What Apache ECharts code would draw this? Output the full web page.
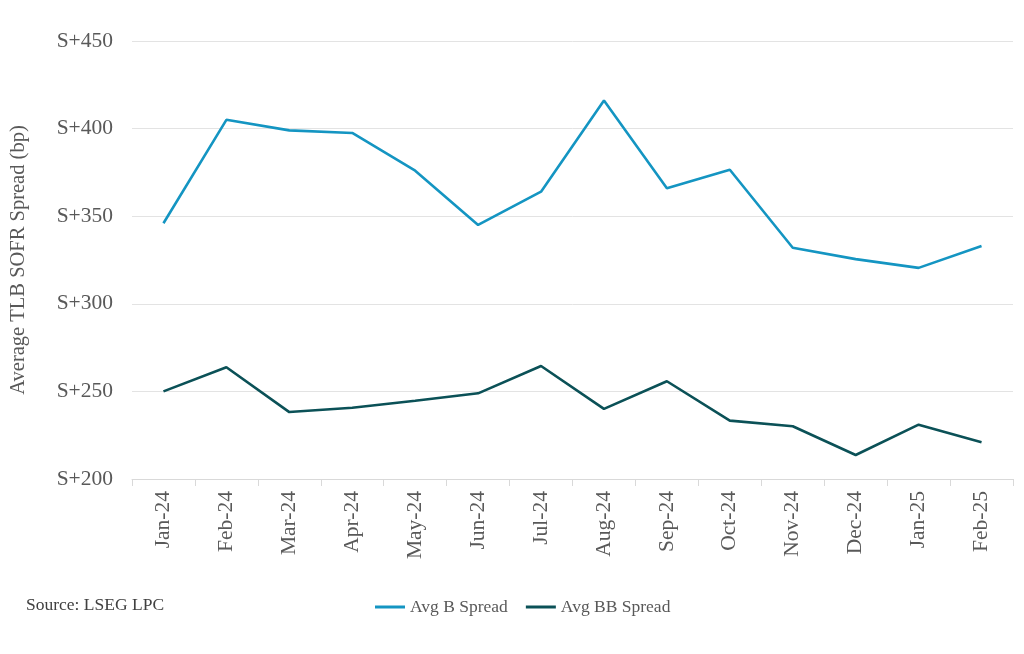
<!DOCTYPE html>
<html>
<head>
<meta charset="utf-8">
<script src="https://cdn.jsdelivr.net/npm/echarts@6/dist/echarts.min.js"></script>
<style>
html,body{margin:0;padding:0;background:#fff;}
#chart{width:1024px;height:654px;}
</style>
</head>
<body>
<div id="chart"></div>
<script>
const categories = ['Jan-24','Feb-24','Mar-24','Apr-24','May-24','Jun-24','Jul-24','Aug-24','Sep-24','Oct-24','Nov-24','Dec-24','Jan-25','Feb-25'];
const avgBSpread = [346, 405, 399, 397.5, 376, 345, 364, 416, 366, 376.5, 332, 325.5, 320.5, 333];
const avgBBSpread = [250, 263.8, 238.2, 240.7, 244.7, 248.9, 264.5, 240, 255.8, 233.3, 230.1, 213.7, 231, 221];
const yTicks = { min: 200, max: 450, interval: 50 };

const FONT = 'Liberation Serif, serif';
const TXT = '#595959';

const chart = echarts.init(document.getElementById('chart'));
chart.setOption({
  backgroundColor: '#ffffff',
  animation: false,
  title: {
    text: 'Source: LSEG LPC',
    left: 21, top: 591,
    textStyle: { fontFamily: FONT, fontSize: 17.5, fontWeight: 'normal', color: '#404040' }
  },
  legend: {
    bottom: 33, left: 370,
    itemWidth: 30, itemHeight: 3, itemGap: 18,
    icon: 'rect',
    textStyle: { fontFamily: FONT, fontSize: 17.5, color: TXT },
    data: ['Avg B Spread', 'Avg BB Spread']
  },
  grid: { left: 132, right: 11, top: 41, bottom: 175, outerBoundsMode: 'none', containLabel: false },
  xAxis: {
    type: 'category',
    data: categories,
    boundaryGap: true,
    axisLine: { lineStyle: { color: '#d9d9d9', width: 1 } },
    axisTick: { show: true, length: 7, lineStyle: { color: '#d9d9d9' } },
    axisLabel: { rotate: 90, margin: 12, fontFamily: FONT, fontSize: 21.5, color: TXT }
  },
  yAxis: {
    type: 'value',
    min: yTicks.min, max: yTicks.max, interval: yTicks.interval,
    name: 'Average TLB SOFR Spread (bp)',
    nameLocation: 'middle',
    nameGap: 103,
    nameTextStyle: { fontFamily: FONT, fontSize: 20.5, color: TXT },
    axisLine: { show: false },
    axisTick: { show: false },
    axisLabel: { formatter: 'S+{value}', margin: 19, fontFamily: FONT, fontSize: 21.5, color: TXT },
    splitLine: { lineStyle: { color: '#e3e3e3', width: 1 } }
  },
  series: [
    {
      name: 'Avg B Spread', type: 'line', data: avgBSpread,
      symbol: 'none', lineStyle: { color: '#1495c2', width: 2.6 }, itemStyle: { color: '#1495c2' }
    },
    {
      name: 'Avg BB Spread', type: 'line', data: avgBBSpread,
      symbol: 'none', lineStyle: { color: '#0b5157', width: 2.6 }, itemStyle: { color: '#0b5157' }
    }
  ]
});
</script>
</body>
</html>
